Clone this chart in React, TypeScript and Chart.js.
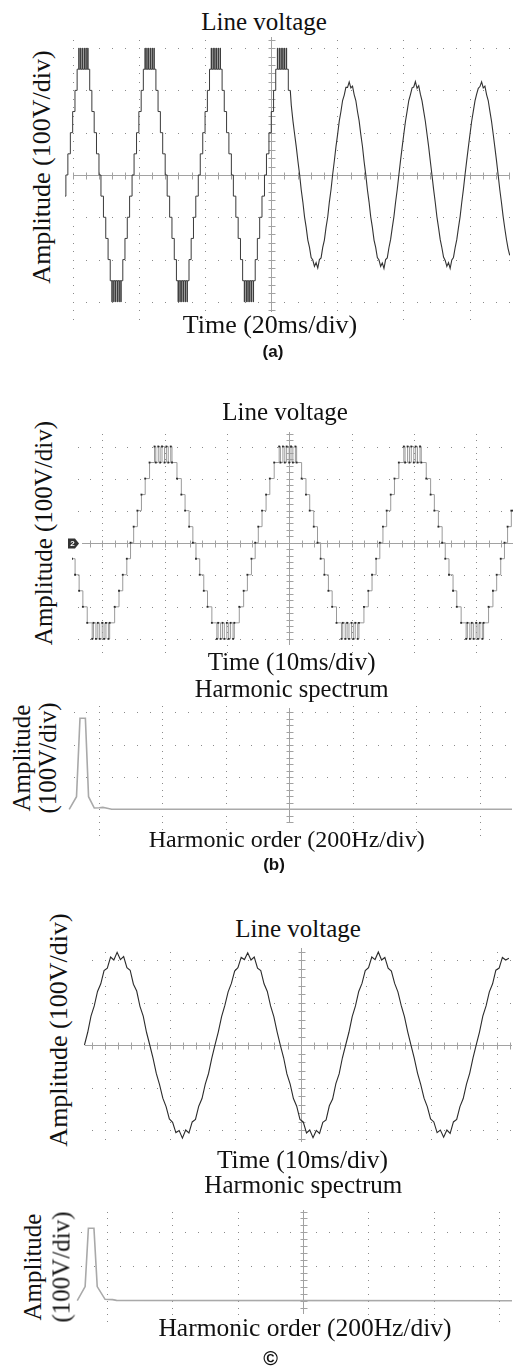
import React, { useEffect, useRef } from "react";
import { Chart, registerables } from "chart.js";

Chart.register(...registerables);

type Pt = [number, number];

// ================= Panel (a): Line voltage, 20 ms/div, 100 V/div =================
// staircase part: [time ms, level V]; each level holds until the next point
const aStair1: Pt[] = [[-2.3,-50],[-2.0,0],[-1.4,50],[-0.65,100],[0.05,150],[0.75,200],[1.4,250],[1.9,300],[2.0,250],[2.45,300],[2.55,250],[2.98,300],[3.08,250],[3.52,300],[3.62,250],[4.05,300],[4.15,250],[4.6,300],[4.7,250],[5.2,200],[5.85,150],[6.55,100],[7.25,50],[8.0,0],[8.6,-50],[9.35,-100],[10.05,-150],[10.75,-200],[11.4,-250],[11.9,-300],[12.0,-250],[12.45,-300],[12.55,-250],[12.98,-300],[13.08,-250],[13.52,-300],[13.62,-250],[14.05,-300],[14.15,-250],[14.6,-300],[14.7,-250],[15.2,-200],[15.85,-150],[16.55,-100],[17.25,-50],[18.0,0]];
const aStair2: Pt[] = [[18.6,50],[19.35,100],[20.05,150],[20.75,200],[21.4,250],[21.9,300],[22.0,250],[22.45,300],[22.55,250],[22.98,300],[23.08,250],[23.52,300],[23.62,250],[24.05,300],[24.15,250],[24.6,300],[24.7,250],[25.2,200],[25.85,150],[26.55,100],[27.25,50],[28.0,0],[28.6,-50],[29.35,-100],[30.05,-150],[30.75,-200],[31.4,-250],[31.9,-300],[32.0,-250],[32.45,-300],[32.55,-250],[32.98,-300],[33.08,-250],[33.52,-300],[33.62,-250],[34.05,-300],[34.15,-250],[34.6,-300],[34.7,-250],[35.2,-200],[35.85,-150],[36.55,-100],[37.25,-50],[38.0,0]];
const aStair3: Pt[] = [[38.6,50],[39.35,100],[40.05,150],[40.75,200],[41.4,250],[41.9,300],[42.0,250],[42.45,300],[42.55,250],[42.98,300],[43.08,250],[43.52,300],[43.62,250],[44.05,300],[44.15,250],[44.6,300],[44.7,250],[45.2,200],[45.85,150],[46.55,100],[47.25,50],[48.0,0],[48.6,-50],[49.35,-100],[50.05,-150],[50.75,-200],[51.4,-250],[51.9,-300],[52.0,-250],[52.45,-300],[52.55,-250],[52.98,-300],[53.08,-250],[53.52,-300],[53.62,-250],[54.05,-300],[54.15,-250],[54.6,-300],[54.7,-250],[55.2,-200],[55.85,-150],[56.55,-100],[57.25,-50],[58.0,0]];
const aStair4: Pt[] = [[58.6,50],[59.35,100],[60.05,150],[60.75,200],[61.4,250],[61.9,300],[62.0,250],[62.45,300],[62.55,250],[62.98,300],[63.08,250],[63.52,300],[63.62,250],[64.05,300],[64.15,250],[64.6,300],[64.7,250],[65.2,200],[65.8,200]];
// sinusoidal part, sampled every 0.5 ms starting at 66.1 ms (V)
const A_SINE_START = 66.1;
const A_SINE_STEP = 0.5;
const aSine1 = [165,128,97,67,33,2,-35,-64,-99,-124,-154,-171,-195,-201,-216,-207,-220,-200,-196,-171,-154,-124,-100,-64,-35,1,33,67,96,128,150,176,189,207,207,220,206,210,190,176];
const aSine2 = [150,128,96,68,32,1,-35,-64,-99,-124,-154,-171,-195,-201,-216,-208,-221,-200,-196,-172,-153,-125,-99,-65,-35,0,34,66,97,127,151,176,190,206,208,221,205,211,191,175];
const aSine3 = [151,127,97,67,33,0,-34,-65,-99,-125,-153,-172,-194,-202,-216,-207,-221,-201,-195,-172,-153,-125,-99,-65,-34,1,34,66,97,127,151,175,191,205,209,220,206,210,190,176];
const aSine4 = [151,127,97,66,34,0,-35,-65,-98,-126,-152,-174,-190];

// ================= Panel (b): Line voltage, 10 ms/div =================
const bStair1: Pt[] = [[-4.894,-50],[-4.4,-100],[-3.75,-150],[-3.15,-200],[-2.45,-250],[-1.65,-300],[-1.45,-250],[-1.05,-300],[-0.75,-250],[-0.45,-300],[-0.05,-250],[0.25,-300],[0.55,-250],[0.95,-300],[1.15,-250],[1.95,-200],[2.65,-150],[3.25,-100],[3.9,-50],[4.5,0]];
const bStair2: Pt[] = [[5.0,50],[5.6,100],[6.25,150],[6.85,200],[7.55,250],[8.35,300],[8.55,250],[8.95,300],[9.25,250],[9.55,300],[9.95,250],[10.25,300],[10.55,250],[10.95,300],[11.15,250],[11.95,200],[12.65,150],[13.25,100],[13.9,50],[14.5,0],[15.0,-50],[15.6,-100],[16.25,-150],[16.85,-200],[17.55,-250],[18.35,-300],[18.55,-250],[18.95,-300],[19.25,-250],[19.55,-300],[19.95,-250],[20.25,-300],[20.55,-250],[20.95,-300],[21.15,-250],[21.95,-200],[22.65,-150],[23.25,-100],[23.9,-50],[24.5,0]];
const bStair3: Pt[] = [[25.0,50],[25.6,100],[26.25,150],[26.85,200],[27.55,250],[28.35,300],[28.55,250],[28.95,300],[29.25,250],[29.55,300],[29.95,250],[30.25,300],[30.55,250],[30.95,300],[31.15,250],[31.95,200],[32.65,150],[33.25,100],[33.9,50],[34.5,0],[35.0,-50],[35.6,-100],[36.25,-150],[36.85,-200],[37.55,-250],[38.35,-300],[38.55,-250],[38.95,-300],[39.25,-250],[39.55,-300],[39.95,-250],[40.25,-300],[40.55,-250],[40.95,-300],[41.15,-250],[41.95,-200],[42.65,-150],[43.25,-100],[43.9,-50],[44.5,0]];
const bStair4: Pt[] = [[45.0,50],[45.6,100],[46.25,150],[46.85,200],[47.55,250],[48.35,300],[48.55,250],[48.95,300],[49.25,250],[49.55,300],[49.95,250],[50.25,300],[50.55,250],[50.95,300],[51.15,250],[51.95,200],[52.65,150],[53.25,100],[53.9,50],[54.5,0],[55.0,-50],[55.6,-100],[56.25,-150],[56.85,-200],[57.55,-250],[58.35,-300],[58.55,-250],[58.95,-300],[59.25,-250],[59.55,-300],[59.95,-250],[60.25,-300],[60.55,-250],[60.95,-300],[61.15,-250],[61.95,-200],[62.65,-150],[63.25,-100],[63.9,-50],[64.5,0]];
const bStair5: Pt[] = [[65.0,50],[65.6,100],[65.87,100]];
// harmonic spectrum (b): frequency Hz, amplitude V
const bSpecFreq = [6, 29, 40, 57, 67, 85, 101, 112, 122, 140, 1402];
const bSpecAmp = [0, 39, 282, 282, 39, 4, 5, 6, 4, 0, 0];

// ================= Panel (c): Line voltage, 10 ms/div =================
const C_SINE_START = -3.1;
const C_SINE_STEP = 0.5;
const cSine1 = [0,30,68,92,126,144,175,181,207,200,218,201,208,182,176,143,127,91,68,30,0,-31,-67,-93,-125,-145,-174,-182,-206,-201,-219,-200,-207,-181,-175,-144,-126,-92,-67,-31];
const cSine2 = [1,31,67,93,125,145,174,182,206,201,217,200,207,181,175,144,126,92,67,31,-1,-30,-68,-92,-126,-144,-175,-181,-207,-200,-218,-201,-208,-182,-176,-143,-127,-91,-68,-30];
const cSine3 = [0,30,67,92,126,145,175,182,207,201,219,200,206,181,174,145,125,93,67,31,0,-31,-66,-93,-125,-145,-174,-181,-206,-200,-217,-200,-208,-181,-175,-145,-126,-92,-66,-30];
const cSine4 = [1,31,68,92,125,144,176,181,206,200,204];
// harmonic spectrum (c)
const cSpecFreq = [10, 34, 44, 61, 71, 95, 118, 130, 1340];
const cSpecAmp = [0, 41, 211, 211, 41, 4, 3, 1, 0];

// graticule positions (major divisions)
const aCols = [0, 20, 40, 80, 100, 120];
const aRows = [-300, -200, -100, 100, 200, 300];
const bCols = [0, 10, 20, 40, 50, 60];
const bRows = [-300, -200, -100, 100, 200, 300];
const cCols = [0, 10, 20, 40, 50, 60];
const cRows = [-200, -100, 100, 200];
const specCols = [100, 300, 500, 900, 1100, 1300];
const bSpecRows = [100, 200, 300];
const cSpecRows = [100, 200];

// ---------------- helpers ----------------
const pairs = (arr: Pt[]) => arr.map(([x, y]) => ({ x, y }));
const sampled = (t0: number, dt: number, vals: number[]) => vals.map((y, i) => ({ x: t0 + i * dt, y }));
const xy = (xs: number[], ys: number[]) => xs.map((x, i) => ({ x, y: ys[i] }));

interface Scope {
  cols: number[];
  rows: number[];
  xMinor: number;
  yMinor: number;
  cx: number;
  cyRange: [number, number];
  hAxis: null | { y: number; from: number };
  marker?: boolean;
}

function scopePlugin(s: Scope) {
  return {
    id: "scope",
    beforeDatasetsDraw(chart: any) {
      const { ctx, chartArea, scales } = chart;
      const xs = scales.x;
      const ys = scales.y;
      const px = (v: number) => Math.round(xs.getPixelForValue(v));
      const py = (v: number) => Math.round(ys.getPixelForValue(v));
      ctx.save();
      ctx.fillStyle = "#8a8a8a";
      const xStart = s.cols[0] - Math.floor((s.cols[0] - xs.min) / s.xMinor) * s.xMinor;
      for (const r of s.rows) {
        const y = py(r);
        for (let v = xStart; v <= xs.max + 1e-6; v += s.xMinor) ctx.fillRect(px(v), y, 1, 1);
      }
      const r0 = s.rows[0];
      const yStart = r0 - Math.floor((r0 - ys.min) / s.yMinor) * s.yMinor;
      for (const c of s.cols) {
        const x = px(c);
        for (let v = yStart; v <= ys.max + 1e-6; v += s.yMinor) ctx.fillRect(x, py(v), 1, 1);
      }
      ctx.strokeStyle = "#a2a2a2";
      ctx.lineWidth = 1;
      ctx.beginPath();
      const ax = px(s.cx) + 0.5;
      ctx.moveTo(ax, py(s.cyRange[1]));
      ctx.lineTo(ax, py(s.cyRange[0]));
      for (let v = Math.ceil(s.cyRange[0] / s.yMinor) * s.yMinor; v <= s.cyRange[1]; v += s.yMinor) {
        const y = py(v) + 0.5;
        ctx.moveTo(ax - 3, y);
        ctx.lineTo(ax + 4, y);
      }
      if (s.hAxis) {
        const ay = py(s.hAxis.y) + 0.5;
        ctx.moveTo(px(s.hAxis.from), ay);
        ctx.lineTo(chartArea.right, ay);
        const hs = s.cols[0] - Math.floor((s.cols[0] - s.hAxis.from) / s.xMinor) * s.xMinor;
        for (let v = hs; v <= xs.max + 1e-6; v += s.xMinor) {
          const x = px(v) + 0.5;
          ctx.moveTo(x, ay - 3);
          ctx.lineTo(x, ay + 4);
        }
      }
      ctx.stroke();
      ctx.restore();
    },
    afterDraw(chart: any) {
      if (!s.marker) return;
      const { ctx, scales } = chart;
      const y = Math.round(scales.y.getPixelForValue(0)) + 0.5;
      ctx.save();
      ctx.fillStyle = "#333";
      ctx.beginPath();
      ctx.moveTo(0, y - 5);
      ctx.lineTo(7, y - 5);
      ctx.lineTo(11, y);
      ctx.lineTo(7, y + 5);
      ctx.lineTo(0, y + 5);
      ctx.closePath();
      ctx.fill();
      ctx.fillStyle = "#fff";
      ctx.font = "bold 8px 'Liberation Sans', Arial, sans-serif";
      ctx.textAlign = "center";
      ctx.textBaseline = "middle";
      ctx.fillText("2", 4.5, y + 0.5);
      ctx.restore();
    },
  };
}

interface PlotProps {
  left: number;
  top: number;
  width: number;
  height: number;
  xRange: [number, number];
  yRange: [number, number];
  datasets: any[];
  scope: Scope;
}

function ScopePlot(p: PlotProps) {
  const ref = useRef<HTMLCanvasElement>(null);
  useEffect(() => {
    const chart = new Chart(ref.current as HTMLCanvasElement, {
      type: "line",
      data: { datasets: p.datasets },
      options: {
        animation: false,
        responsive: false,
        maintainAspectRatio: false,
        events: [],
        layout: { padding: 0 },
        plugins: {
          legend: { display: false },
          tooltip: { enabled: false },
          title: { display: false },
        },
        elements: { point: { radius: 0 }, line: { tension: 0 } },
        scales: {
          x: { type: "linear", min: p.xRange[0], max: p.xRange[1], display: false },
          y: { type: "linear", min: p.yRange[0], max: p.yRange[1], display: false },
        },
      } as any,
      plugins: [scopePlugin(p.scope)],
    });
    return () => chart.destroy();
  }, []);
  return (
    <canvas
      ref={ref}
      width={p.width}
      height={p.height}
      style={{ position: "absolute", left: p.left, top: p.top, width: p.width, height: p.height }}
    />
  );
}

const serif = '"Liberation Serif", "Times New Roman", serif';
const sans = '"Liberation Sans", Arial, sans-serif';

function Txt({ x, base, fs, bold, sansFont, children }: any) {
  const asc = sansFont ? 0.8465 : 0.8375;
  return (
    <div
      style={{
        position: "absolute",
        left: x,
        top: base - asc * fs,
        transform: "translateX(-50%)",
        fontSize: fs,
        lineHeight: `${fs}px`,
        whiteSpace: "nowrap",
        fontFamily: sansFont ? sans : serif,
        fontWeight: bold ? 700 : 400,
        color: "#111",
      }}
    >
      {children}
    </div>
  );
}

function RotTxt({ cx, cy, fs, children }: any) {
  return (
    <div
      style={{
        position: "absolute",
        left: cx,
        top: cy,
        transform: "translate(-50%, -50%) rotate(-90deg)",
        fontSize: fs,
        lineHeight: `${fs}px`,
        whiteSpace: "nowrap",
        fontFamily: serif,
        color: "#111",
      }}
    >
      {children}
    </div>
  );
}

export default function App() {
  const aStairData = pairs([...aStair1, ...aStair2, ...aStair3, ...aStair4]);
  const aSineData = [
    aStairData[aStairData.length - 1],
    ...sampled(A_SINE_START, A_SINE_STEP, [...aSine1, ...aSine2, ...aSine3, ...aSine4]),
  ];
  const bData = pairs([...bStair1, ...bStair2, ...bStair3, ...bStair4, ...bStair5]);
  const cData = sampled(C_SINE_START, C_SINE_STEP, [...cSine1, ...cSine2, ...cSine3, ...cSine4]);

  return (
    <div style={{ position: "absolute", left: 0, top: 0, width: 517, height: 1366, background: "#fff", overflow: "hidden" }}>
      {/* ---------- (a) ---------- */}
      <ScopePlot
        left={65}
        top={37}
        width={445}
        height={284}
        xRange={[-2.266, 132.18]}
        yRange={[-345.2, 326.2]}
        scope={{ cols: aCols, rows: aRows, xMinor: 4, yMinor: 20, cx: 60, cyRange: [-323, 326], hAxis: { y: 0, from: 0 } }}
        datasets={[
          { data: aStairData, borderColor: "#3a3a3a", borderWidth: 1, stepped: "before", pointRadius: 0 },
          { data: aSineData, borderColor: "#333", borderWidth: 1.1, pointRadius: 0 },
        ]}
      />
      <Txt x={264} base={29.5} fs={25}>Line voltage</Txt>
      <RotTxt cx={42} cy={166.5} fs={26}>Amplitude (100V/div)</RotTxt>
      <Txt x={270} base={333.5} fs={26}>Time (20ms/div)</Txt>
      <Txt x={273} base={357} fs={17} bold sansFont>(a)</Txt>

      {/* ---------- (b) ---------- */}
      <ScopePlot
        left={68}
        top={426}
        width={449}
        height={233}
        xRange={[-4.894, 65.87]}
        yRange={[-350.3, 351.5]}
        scope={{ cols: bCols, rows: bRows, xMinor: 2, yMinor: 20, cx: 30, cyRange: [-318, 345], hAxis: { y: 0, from: -3.3 }, marker: true }}
        datasets={[
          {
            data: bData,
            borderColor: "#9a9a9a",
            borderWidth: 1,
            stepped: "before",
            pointRadius: 1.3,
            pointStyle: "rect",
            pointBackgroundColor: "#2a2a2a",
            pointBorderWidth: 0,
          },
        ]}
      />
      <Txt x={285} base={420} fs={25}>Line voltage</Txt>
      <RotTxt cx={43} cy={533} fs={25}>Amplitude (100V/div)</RotTxt>
      <Txt x={291.7} base={670} fs={25}>Time (10ms/div)</Txt>

      <ScopePlot
        left={67}
        top={705}
        width={445}
        height={131}
        xRange={[-0.95, 1401.8]}
        yRange={[-82.7, 322.9]}
        scope={{ cols: specCols, rows: bSpecRows, xMinor: 40, yMinor: 20, cx: 700, cyRange: [-42, 313], hAxis: null }}
        datasets={[{ data: xy(bSpecFreq, bSpecAmp), borderColor: "#a9a9a9", borderWidth: 1.6, pointRadius: 0 }]}
      />
      <Txt x={291.7} base={698} fs={24.5}>Harmonic spectrum</Txt>
      <RotTxt cx={21} cy={758} fs={25}>Amplitude</RotTxt>
      <RotTxt cx={47} cy={758} fs={25}>(100V/div)</RotTxt>
      <Txt x={286.7} base={846.7} fs={24}>Harmonic order (200Hz/div)</Txt>
      <Txt x={274} base={870} fs={17} bold sansFont>(b)</Txt>

      {/* ---------- (c) ---------- */}
      <ScopePlot
        left={84}
        top={945}
        width={428}
        height={201}
        xRange={[-3.17, 62.37]}
        yRange={[-237.6, 235.3]}
        scope={{ cols: cCols, rows: cRows, xMinor: 2, yMinor: 20, cx: 30, cyRange: [-228, 228], hAxis: { y: 0, from: -3.0 } }}
        datasets={[{ data: cData, borderColor: "#2b2b2b", borderWidth: 1.1, pointRadius: 0 }]}
      />
      <Txt x={298} base={937} fs={25}>Line voltage</Txt>
      <RotTxt cx={59} cy={1030} fs={26}>Amplitude (100V/div)</RotTxt>
      <Txt x={302.5} base={1168} fs={25.5}>Time (10ms/div)</Txt>

      <ScopePlot
        left={74}
        top={1209}
        width={438}
        height={117}
        xRange={[0, 1339.4]}
        yRange={[-73.8, 267.3]}
        scope={{ cols: specCols, rows: cSpecRows, xMinor: 40, yMinor: 20, cx: 700, cyRange: [-39, 264], hAxis: null }}
        datasets={[{ data: xy(cSpecFreq, cSpecAmp), borderColor: "#a9a9a9", borderWidth: 1.6, pointRadius: 0 }]}
      />
      <Txt x={303.3} base={1193} fs={25}>Harmonic spectrum</Txt>
      <RotTxt cx={32} cy={1267} fs={25}>Amplitude</RotTxt>
      <RotTxt cx={61} cy={1267} fs={25}>(100V/div)</RotTxt>
      <Txt x={305} base={1336.7} fs={25.5}>Harmonic order (200Hz/div)</Txt>
      <Txt x={270.5} base={1365} fs={20} bold sansFont>©</Txt>
    </div>
  );
}
